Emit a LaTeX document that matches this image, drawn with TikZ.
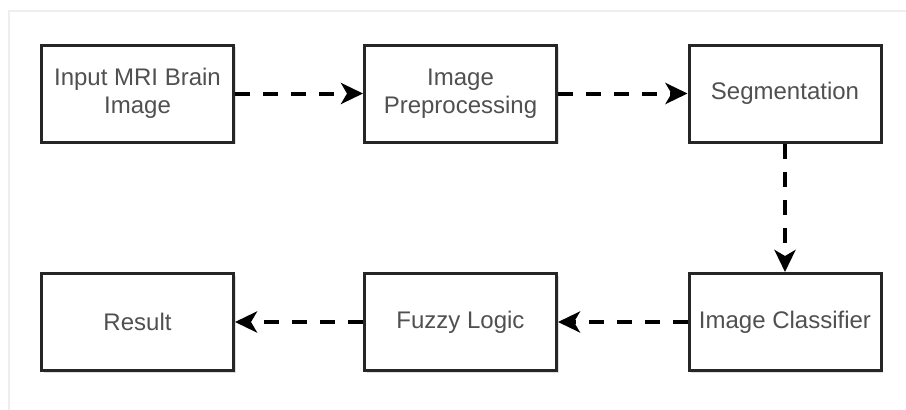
\documentclass[tikz,border=0pt]{standalone}
\usepackage{fontspec}
\setmainfont{Liberation Sans}
\usetikzlibrary{arrows.meta,shadows}
\definecolor{txt}{HTML}{505050}
\definecolor{frame}{HTML}{EEEEEE}
\tikzset{
  box/.style={draw=black!85, line width=3pt, fill=white, minimum width=192pt, minimum height=97pt,
    text=txt, align=center, font=\fontsize{24}{28}\selectfont,
    drop shadow={shadow xshift=2pt, shadow yshift=-2pt, opacity=0.25}},
  flow/.style={draw=black, line width=4pt, dash pattern=on 15pt off 13pt,
    -{Stealth[length=22pt,width=21pt,inset=6pt]}}
}
\begin{document}
\begin{tikzpicture}[x=1pt,y=-1pt]
\useasboundingbox (0,0) rectangle (906,410);
\fill[white] (0,0) rectangle (906,410);
\draw[frame, line width=1.5pt] (9,420) -- (9,11) -- (916,11);
\node[box] (in) at (137.5,93.5) {Input MRI Brain\\Image};
\node[box] (pre) at (460.5,93.5) {Image\\Preprocessing};
\node[box] (seg) at (785,93.5) {Segmentation};
\node[box] (cls) at (785,322) {Image Classifier};
\node[box] (fuz) at (460.5,322) {Fuzzy Logic};
\node[box] (res) at (137.5,322) {Result};
\draw[flow] (in) -- (pre);
\draw[flow] (pre) -- (seg);
\draw[flow] (seg) -- (cls);
\draw[flow] (cls) -- (fuz);
\draw[flow] (fuz) -- (res);
\end{tikzpicture}
\end{document}
